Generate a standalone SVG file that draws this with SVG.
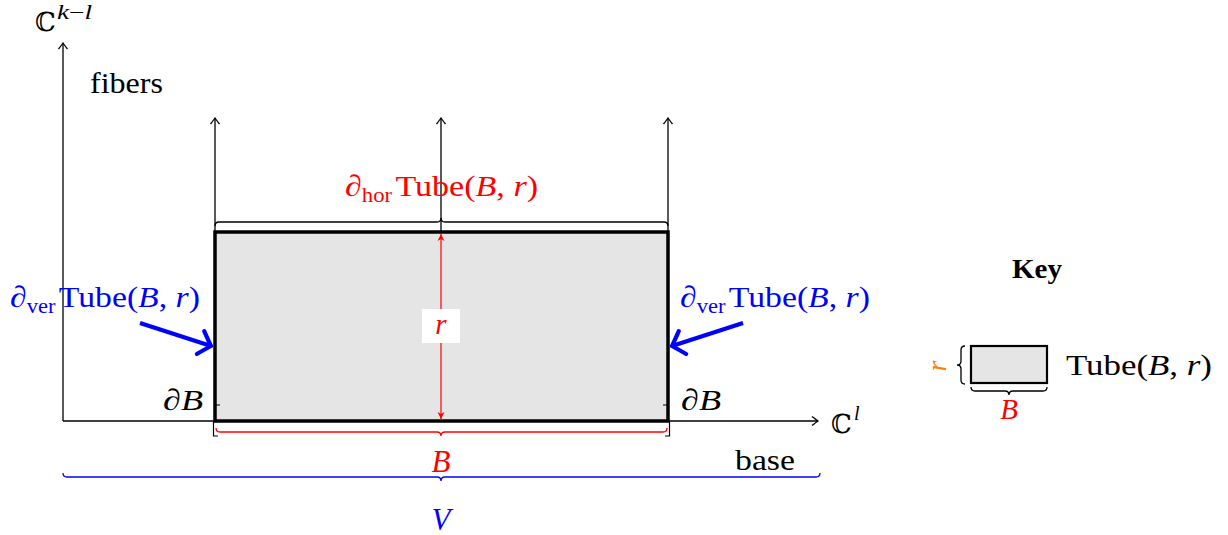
<svg xmlns="http://www.w3.org/2000/svg" width="1228" height="535" viewBox="0 0 1228 535">
<defs>
<style>
.txt{font-family:"Liberation Serif","DejaVu Serif",serif;}
.m{font-family:"Liberation Serif","DejaVu Serif",serif;}
.it{font-style:italic;}
.bb{font-family:"DejaVu Serif","DejaVu Sans",serif;}
.ax{stroke:#000;stroke-width:1.3;fill:none;}
.br{fill:none;stroke-width:1.3;}
</style>
<marker id="to" viewBox="-8 -6 10 12" refX="0" refY="0" markerWidth="10" markerHeight="12" orient="auto" markerUnits="userSpaceOnUse">
<path d="M-6,-4.5 Q-1.5,-1 0,0 Q-1.5,1 -6,4.5" fill="none" stroke="#000" stroke-width="1.3"/>
</marker>
<marker id="bto" viewBox="-16 -16 20 32" refX="0" refY="0" markerWidth="20" markerHeight="32" orient="auto" markerUnits="userSpaceOnUse">
<path d="M-11,-12 Q-3,-3 0,0 Q-3,3 -11,12" fill="none" stroke="#0000ff" stroke-width="4.2" stroke-linecap="round"/>
</marker>
<marker id="rto" viewBox="-8 -5 10 10" refX="0" refY="0" markerWidth="10" markerHeight="10" orient="auto-start-reverse" markerUnits="userSpaceOnUse">
<path d="M0,0 L-7,-3.5 L-5,0 L-7,3.5 z" fill="#ff0000"/>
</marker>
</defs>

<g id="connectors">
<line class="ax" x1="63" y1="421" x2="63" y2="43" marker-end="url(#to)"/>
<line class="ax" x1="63" y1="421" x2="818" y2="421" marker-end="url(#to)"/>
<line class="ax" x1="215" y1="232" x2="215" y2="118" marker-end="url(#to)"/>
<line class="ax" x1="441" y1="232" x2="441" y2="118" marker-end="url(#to)"/>
<line class="ax" x1="668" y1="232" x2="668" y2="118" marker-end="url(#to)"/>
</g>

<g id="tube">
<rect x="215" y="232" width="453" height="189" fill="#e5e5e5" stroke="#000" stroke-width="3.5"/>
</g>

<g id="radius">
<line x1="441" y1="234" x2="441" y2="419" stroke="#ff0000" stroke-width="1.2" marker-start="url(#rto)" marker-end="url(#rto)"/>
<rect x="422" y="309" width="38" height="34" fill="#ffffff"/>
<text class="m it" x="441" y="334" font-size="29" fill="#ff0000" text-anchor="middle">r</text>
</g>

<g id="horizontal-boundary">
<path class="br" stroke="#000" d="M215,226 Q215,222 219,222 L437,222 Q441,222 441,218 Q441,222 445,222 L664,222 Q668,222 668,226"/>
<text class="m" x="345" y="196" font-size="30" fill="#ff0000" textLength="193" lengthAdjust="spacingAndGlyphs"><tspan class="it">∂</tspan><tspan font-size="20" dy="6">hor</tspan><tspan dy="-6" dx="3">Tube(</tspan><tspan class="it">B</tspan><tspan>, </tspan><tspan class="it">r</tspan><tspan>)</tspan></text>
</g>

<g id="vertical-boundary-left">
<text class="m" x="10" y="307" font-size="30" fill="#0000ff" textLength="190" lengthAdjust="spacingAndGlyphs"><tspan class="it">∂</tspan><tspan font-size="20" dy="6">ver</tspan><tspan dy="-6" dx="3">Tube(</tspan><tspan class="it">B</tspan><tspan>, </tspan><tspan class="it">r</tspan><tspan>)</tspan></text>
<line x1="140" y1="323" x2="211" y2="346" stroke="#0000ff" stroke-width="4.2" marker-end="url(#bto)"/>
</g>

<g id="vertical-boundary-right">
<text class="m" x="680" y="307" font-size="30" fill="#0000ff" textLength="190" lengthAdjust="spacingAndGlyphs"><tspan class="it">∂</tspan><tspan font-size="20" dy="6">ver</tspan><tspan dy="-6" dx="3">Tube(</tspan><tspan class="it">B</tspan><tspan>, </tspan><tspan class="it">r</tspan><tspan>)</tspan></text>
<line x1="743" y1="323" x2="672" y2="346" stroke="#0000ff" stroke-width="4.2" marker-end="url(#bto)"/>
</g>

<g id="boundary-B">
<path d="M216,405 H220 M667,405 H663" stroke="#000" stroke-width="1.2" fill="none"/>
<path d="M218,436 H213.5 V421 M665,436 H669.5 V421" stroke="#000" stroke-width="1.2" fill="none"/>
<text class="m it" x="163" y="410" font-size="30" fill="#000" textLength="40" lengthAdjust="spacingAndGlyphs">∂B</text>
<text class="m it" x="681" y="410" font-size="30" fill="#000" textLength="40" lengthAdjust="spacingAndGlyphs">∂B</text>
</g>

<g id="base-B">
<path class="br" stroke="#ff0000" d="M216,428 Q216,432 220,432 L437,432 Q441,432 441,436 Q441,432 445,432 L663,432 Q667,432 667,428"/>
<text class="m it" x="441" y="472" font-size="31" fill="#ff0000" text-anchor="middle">B</text>
</g>

<g id="base-V">
<path class="br" stroke="#0000ff" d="M63,473 Q63,477 67,477 L437,477 Q441,477 441,481 Q441,477 445,477 L816,477 Q820,477 820,473"/>
<text class="m it" x="441" y="530" font-size="31" fill="#0000ff" text-anchor="middle">V</text>
</g>

<g id="labels">
<text class="bb" x="35" y="31" font-size="26" fill="#000">ℂ</text>
<text class="m it" x="57" y="19" font-size="20" fill="#000" textLength="35" lengthAdjust="spacingAndGlyphs">k<tspan font-style="normal">−</tspan>l</text>
<text class="bb" x="831" y="433" font-size="26" fill="#000">ℂ</text>
<text class="m it" x="854" y="420" font-size="20" fill="#000">l</text>
<text class="txt" x="90" y="93" font-size="29" fill="#000" textLength="73" lengthAdjust="spacingAndGlyphs">fibers</text>
<text class="txt" x="735" y="470" font-size="29" fill="#000" textLength="60" lengthAdjust="spacingAndGlyphs">base</text>
</g>

<g id="key">
<text class="txt" x="1012" y="278" font-size="27" font-weight="bold" fill="#000" textLength="50" lengthAdjust="spacingAndGlyphs">Key</text>
<rect x="971" y="346" width="76" height="37" fill="#e5e5e5" stroke="#000" stroke-width="2.2"/>
<path class="br" stroke="#000" stroke-width="1" d="M965,346 Q961,346 961,350 L961,361 Q961,365 957,365 Q961,365 961,369 L961,380 Q961,384 965,384"/>
<text class="m it" x="0" y="0" font-size="28" fill="#ff8000" text-anchor="middle" transform="translate(946,366) rotate(-90)">r</text>
<path class="br" stroke="#000" stroke-width="1" d="M971,387 Q971,391 975,391 L1005,391 Q1009,391 1009,395 Q1009,391 1013,391 L1043,391 Q1047,391 1047,387"/>
<text class="m it" x="1009" y="419" font-size="29" fill="#ff0000" text-anchor="middle">B</text>
<text class="m" x="1066" y="375" font-size="29" fill="#000" textLength="146" lengthAdjust="spacingAndGlyphs">Tube(<tspan class="it">B</tspan>, <tspan class="it">r</tspan>)</text>
</g>
</svg>
